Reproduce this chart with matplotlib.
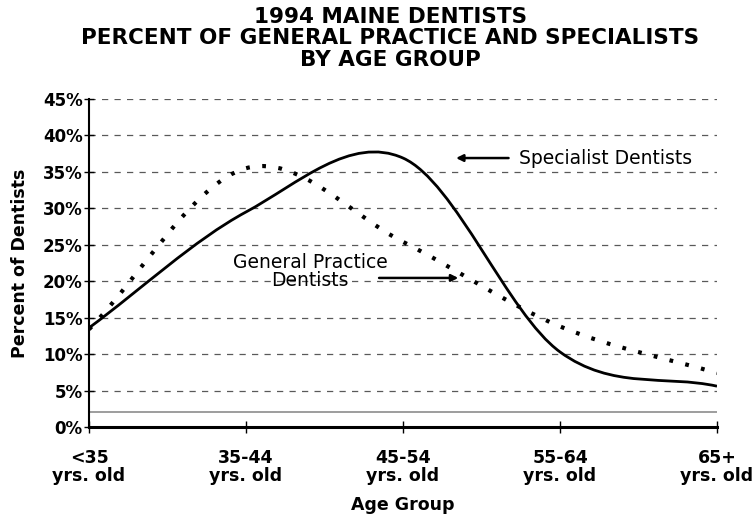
import numpy as np
import matplotlib.pyplot as plt
from matplotlib.path import Path
from matplotlib.patches import PathPatch

# data
age_groups = ["<35\nyrs. old", "35-44\nyrs. old", "45-54\nyrs. old",
              "55-64\nyrs. old", "65+\nyrs. old"]
specialist = [13.6, 29.5, 36.9, 10.3, 5.6]
general = [13.4, 35.5, 25.4, 13.8, 7.4]
y_ticks = [0, 5, 10, 15, 20, 25, 30, 35, 40, 45]


def smooth_path(xs, ys):
    """Catmull-Rom style smoothed line (like a spreadsheet 'smoothed line') as a bezier path."""
    pts = np.column_stack([xs, ys]).astype(float)
    n = len(pts)
    tang = np.zeros_like(pts)
    tang[0] = pts[1] - pts[0]
    tang[-1] = pts[-1] - pts[-2]
    for i in range(1, n - 1):
        tang[i] = (pts[i + 1] - pts[i - 1]) / 2
    verts = [pts[0]]
    codes = [Path.MOVETO]
    for i in range(n - 1):
        verts += [pts[i] + tang[i] / 3, pts[i + 1] - tang[i + 1] / 3, pts[i + 1]]
        codes += [Path.CURVE4] * 3
    return Path(verts, codes)


fig = plt.figure(figsize=(7.56, 5.21), dpi=100)
ax = fig.add_axes([89 / 756, 94 / 521, 628 / 756, 328 / 521])

x = np.arange(len(age_groups))

# grid lines
for v in y_ticks[1:]:
    ax.axhline(v, color="0.35", lw=0.9, dashes=(5, 5), zorder=1)
ax.axhline(2.1, color="0.55", lw=1.2, zorder=1)

ax.add_patch(PathPatch(smooth_path(x, specialist), fill=False, color="black",
                       lw=2.0, zorder=3))
ax.add_patch(PathPatch(smooth_path(x, general), fill=False, color="black",
                       lw=3.0, linestyle=(0, (0.9, 3.0)), zorder=3))

ax.set_xlim(0, len(age_groups) - 1)
ax.set_ylim(0, 45)
ax.set_xticks(x)
ax.set_xticklabels(age_groups, fontsize=12.5, fontweight="bold", linespacing=1.0)
ax.set_yticks(y_ticks)
ax.set_yticklabels([f"{v}%" for v in y_ticks], fontsize=12, fontweight="bold")
ax.tick_params(axis="x", direction="inout", length=9, width=1, pad=11)
ax.tick_params(axis="y", direction="inout", length=7, width=1, pad=1)

for s in ["top", "right"]:
    ax.spines[s].set_visible(False)
ax.spines["left"].set_linewidth(1.5)
ax.spines["bottom"].set_linewidth(2.2)

ax.set_xlabel("Age Group", fontsize=12.5, fontweight="bold", labelpad=8)
ax.set_ylabel("Percent of Dentists", fontsize=12.5, fontweight="bold", labelpad=10)

fig.suptitle("1994 MAINE DENTISTS\nPERCENT OF GENERAL PRACTICE AND SPECIALISTS\nBY AGE GROUP",
             fontsize=15.5, fontweight="bold", x=0.516, y=0.986, linespacing=1.07)

# annotations
ax.annotate("", xy=(2.32, 36.9), xytext=(2.69, 36.9),
            arrowprops=dict(arrowstyle="-|>", color="black", lw=1.8,
                            mutation_scale=10))
ax.text(2.74, 36.9, "Specialist Dentists", fontsize=13.5, va="center", ha="left")

ax.annotate("", xy=(2.37, 20.45), xytext=(1.83, 20.45),
            arrowprops=dict(arrowstyle="-|>", color="black", lw=1.8,
                            mutation_scale=10))
ax.text(1.41, 21.3, "General Practice\nDentists", fontsize=13.5, va="center",
        ha="center", linespacing=0.92)

fig.savefig("out.png", dpi=100)
